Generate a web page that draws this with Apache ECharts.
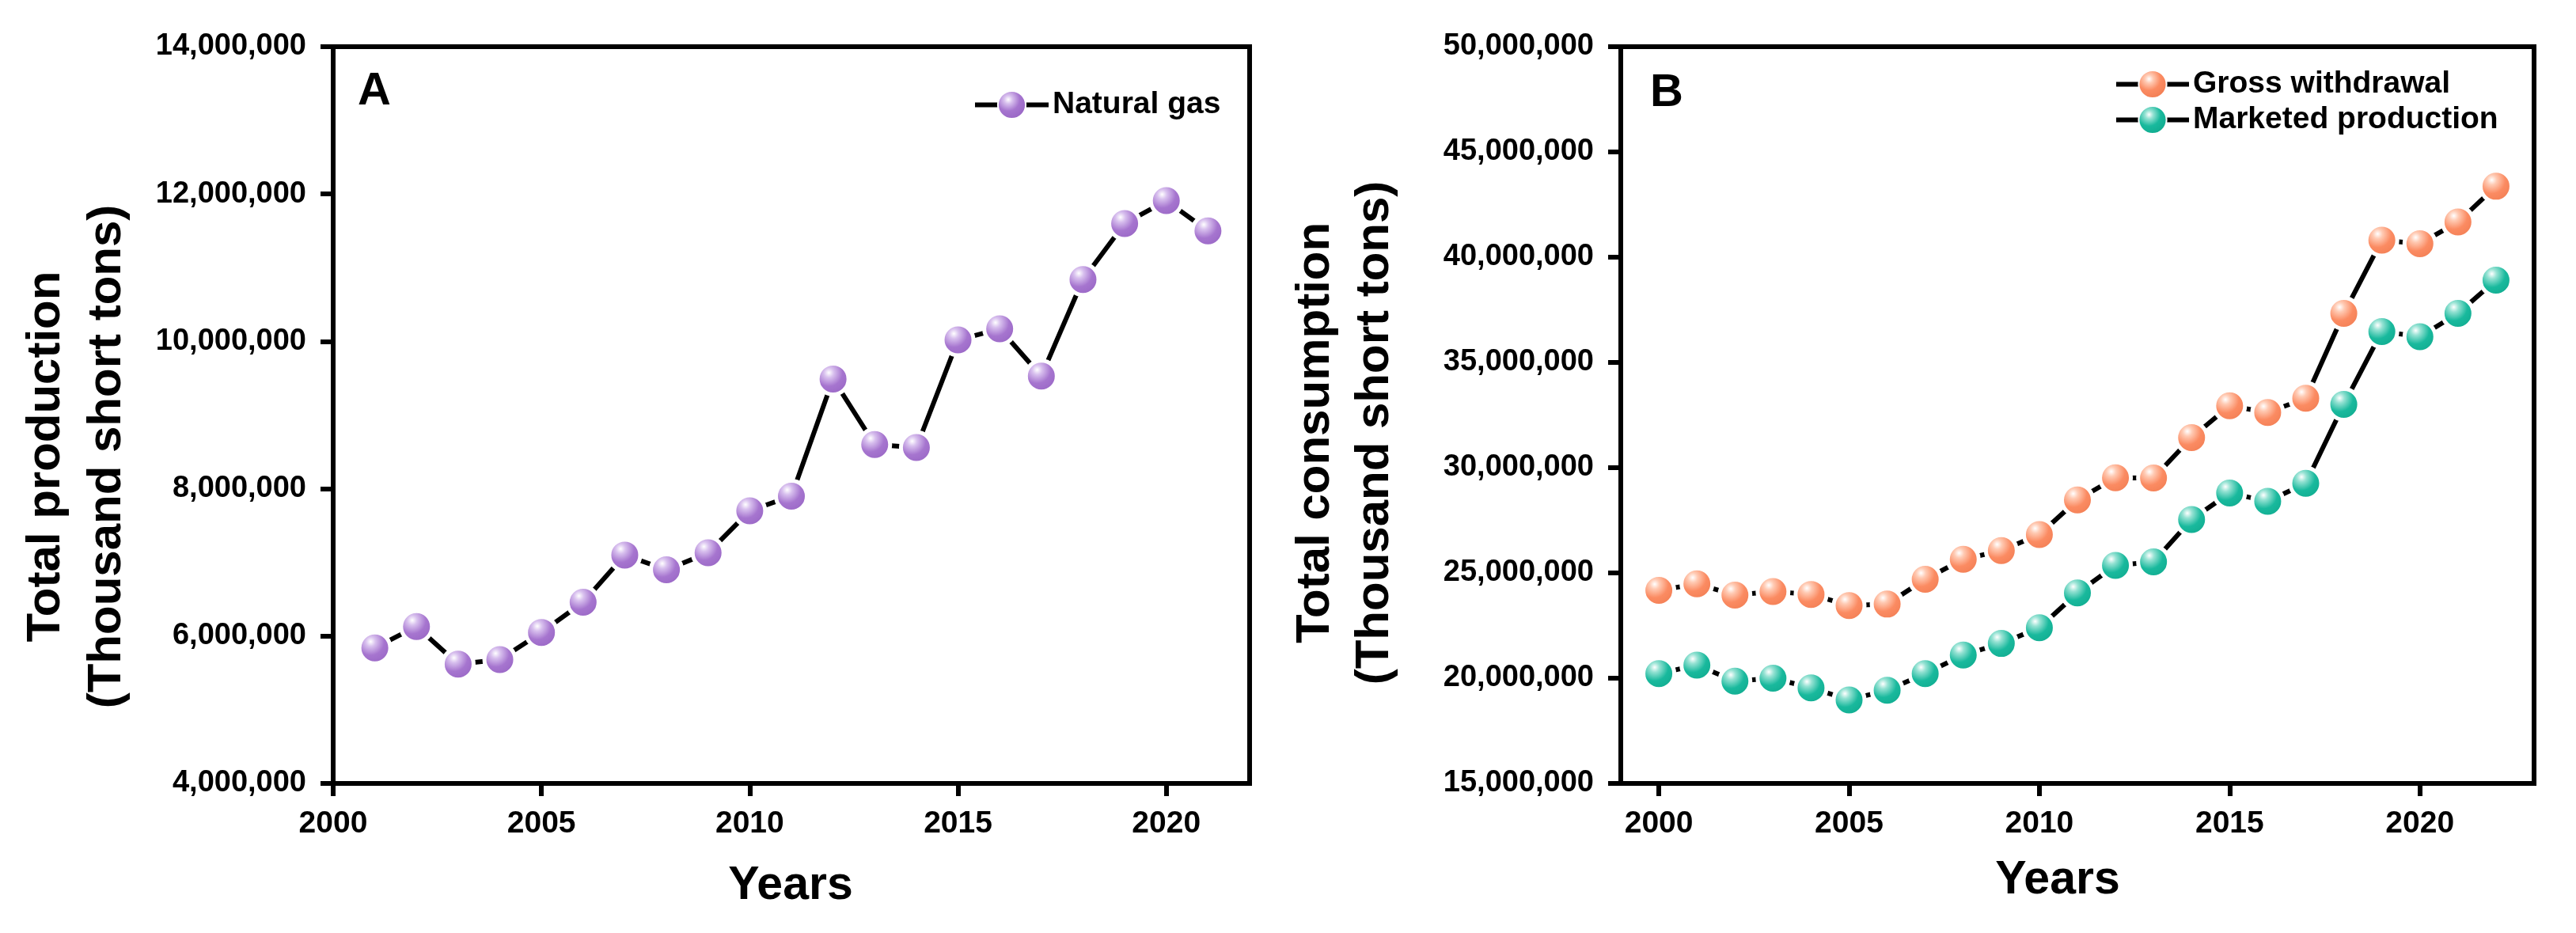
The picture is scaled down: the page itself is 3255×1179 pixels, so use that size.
<!DOCTYPE html>
<html>
<head>
<meta charset="utf-8">
<script src="https://cdn.jsdelivr.net/npm/echarts@6/dist/echarts.min.js"></script>
<style>
html,body{margin:0;padding:0;background:#fff;}
#chart{width:3255px;height:1179px;}
</style>
</head>
<body>
<div id="chart"></div>
<script>
// ---- Data ----
const yearsA = [2001,2002,2003,2004,2005,2006,2007,2008,2009,2010,2011,2012,2013,2014,2015,2016,2017,2018,2019,2020,2021];
const naturalGas = [5840000,6130000,5620000,5680000,6050000,6460000,7100000,6900000,7130000,7700000,7900000,9490000,8600000,8560000,10020000,10170000,9530000,10840000,11600000,11910000,11500000];

const yearsB = [2000,2001,2002,2003,2004,2005,2006,2007,2008,2009,2010,2011,2012,2013,2014,2015,2016,2017,2018,2019,2020,2021,2022];
const grossWithdrawal = [24170000,24480000,23950000,24120000,23980000,23450000,23520000,24700000,25650000,26060000,26820000,28470000,29520000,29510000,31430000,32940000,32620000,33300000,37330000,40810000,40640000,41670000,43370000];
const marketedProduction = [20220000,20620000,19860000,20000000,19540000,18970000,19430000,20220000,21100000,21650000,22400000,24050000,25360000,25530000,27540000,28800000,28400000,29260000,33010000,36470000,36220000,37330000,38910000];

const xTickYears = [2000,2005,2010,2015,2020];

// ---- Styles ----
const FONT = '"Liberation Sans", Arial, sans-serif';
function sphere(base, light, dark){
  return {type:'radial', x:0.38, y:0.32, r:0.78, colorStops:[
    {offset:0, color:'#ffffff'},
    {offset:0.18, color:light},
    {offset:0.5, color:base},
    {offset:1, color:dark}
  ]};
}
const purple = sphere('#a675cf','#d8c0ee','#9562c2');
const orange = sphere('#fb8b62','#ffcab3','#ef7a4f');
const teal = sphere('#19b99d','#95e2d3','#0ea78b');

function pairs(xs, ys){ return xs.map((x,i)=>[x, ys[i]]); }
const fmt = v => Math.round(v).toLocaleString('en-US');

function xAxisCfg(gridIndex, min, max){
  return {
    type:'value', gridIndex, min, max,
    axisLine:{show:true, onZero:false, lineStyle:{color:'#000', width:6}},
    axisTick:{show:true, customValues:xTickYears, length:16, lineStyle:{color:'#000', width:6}},
    axisLabel:{show:true, customValues:xTickYears, margin:32, color:'#000', fontFamily:FONT, fontWeight:'bold', fontSize:39, formatter:v => String(v)},
    splitLine:{show:false}
  };
}
function yAxisCfg(gridIndex, min, max, interval){
  return {
    type:'value', gridIndex, min, max, interval,
    axisLine:{show:true, onZero:false, lineStyle:{color:'#000', width:6}},
    axisTick:{show:true, length:16, lineStyle:{color:'#000', width:6}},
    axisLabel:{margin:34, color:'#000', fontFamily:FONT, fontWeight:'bold', fontSize:38, formatter:fmt},
    splitLine:{show:false}
  };
}
function lineSeries(name, xi, yi, data, color){
  return {
    type:'line', name, xAxisIndex:xi, yAxisIndex:yi, data,
    symbol:'circle', symbolSize:39,
    lineStyle:{color:'#000', width:6},
    itemStyle:{color:color, borderColor:'#ffffff', borderWidth:5},
    emphasis:{disabled:true},
    z:3
  };
}

const chart = echarts.init(document.getElementById('chart'), null, {renderer:'canvas'});
chart.setOption({
  animation:false,
  backgroundColor:'#ffffff',
  grid:[
    {left:421, top:59, width:1158, height:931, show:true, borderColor:'#000', borderWidth:6, backgroundColor:'transparent'},
    {left:2048, top:59, width:1154, height:931, show:true, borderColor:'#000', borderWidth:6, backgroundColor:'transparent'}
  ],
  xAxis:[ xAxisCfg(0, 2000, 2022), xAxisCfg(1, 1999, 2023) ],
  yAxis:[ yAxisCfg(0, 4000000, 14000000, 2000000), yAxisCfg(1, 15000000, 50000000, 5000000) ],
  legend:[
    {
      data:['Natural gas'], left:1229, top:113, padding:0,
      itemWidth:93, itemHeight:44,
      lineStyle:{width:6, color:'#000'},
      textStyle:{color:'#000', fontFamily:FONT, fontWeight:'bold', fontSize:39},
      selectedMode:false
    },
    {
      data:['Gross withdrawal','Marketed production'], orient:'vertical', left:2671, top:87, padding:0,
      itemWidth:92, itemHeight:44, itemGap:6,
      lineStyle:{width:6, color:'#000'},
      textStyle:{color:'#000', fontFamily:FONT, fontWeight:'bold', fontSize:39},
      selectedMode:false
    }
  ],
  series:[
    lineSeries('Natural gas', 0, 0, pairs(yearsA, naturalGas), purple),
    lineSeries('Gross withdrawal', 1, 1, pairs(yearsB, grossWithdrawal), orange),
    lineSeries('Marketed production', 1, 1, pairs(yearsB, marketedProduction), teal)
  ],
  graphic:[
    {type:'text', x:473, y:116, style:{text:'A', font:'bold 58px '+FONT, fill:'#000', align:'center', verticalAlign:'middle'}},
    {type:'text', x:2106, y:118, style:{text:'B', font:'bold 58px '+FONT, fill:'#000', align:'center', verticalAlign:'middle'}},
    {type:'text', x:97, y:577, rotation:Math.PI/2, style:{text:'Total production\n(Thousand short tons)', font:'bold 60px '+FONT, lineHeight:77, fill:'#000', align:'center', verticalAlign:'middle'}},
    {type:'text', x:1700, y:547, rotation:Math.PI/2, style:{text:'Total consumption\n(Thousand short tons)', font:'bold 60px '+FONT, lineHeight:75, fill:'#000', align:'center', verticalAlign:'middle'}},
    {type:'text', x:999, y:1120, style:{text:'Years', font:'bold 59px '+FONT, fill:'#000', align:'center', verticalAlign:'middle'}},
    {type:'text', x:2600, y:1113, style:{text:'Years', font:'bold 59px '+FONT, fill:'#000', align:'center', verticalAlign:'middle'}}
  ]
});
</script>
</body>
</html>
